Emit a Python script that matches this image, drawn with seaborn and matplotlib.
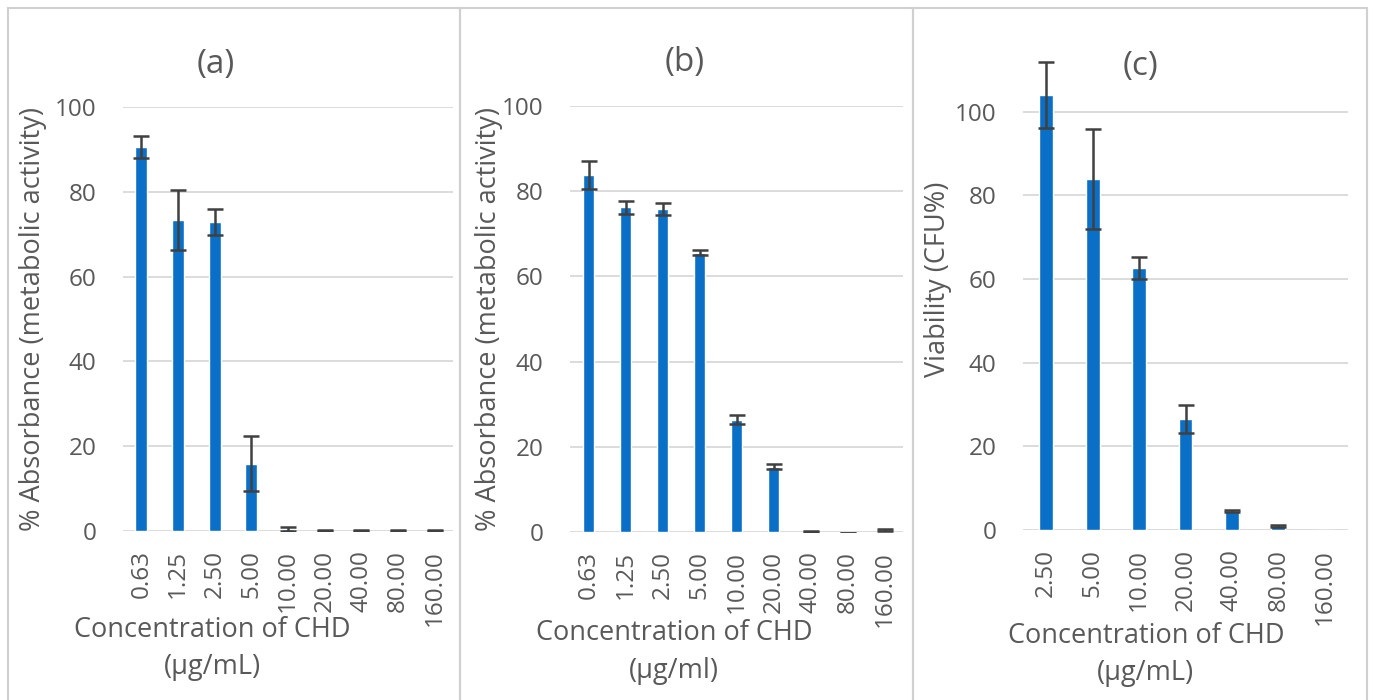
import matplotlib
matplotlib.use("Agg")
import matplotlib.pyplot as plt
import seaborn as sns
import pandas as pd
from matplotlib.patches import Rectangle

# values
conc_ab = ["0.63", "1.25", "2.50", "5.00", "10.00", "20.00", "40.00", "80.00", "160.00"]
conc_c = ["2.50", "5.00", "10.00", "20.00", "40.00", "80.00", "160.00"]

absorb_a = [90.5, 73.4, 72.9, 15.9, 0.5, 0.1, 0.1, 0.1, 0.1]
err_a = [2.6, 7.1, 3.1, 6.4, 0.5, 0.1, 0.1, 0.1, 0.1]

absorb_b = [83.8, 76.2, 75.8, 65.6, 26.4, 15.3, 0.2, -0.3, 0.4]
err_b = [3.2, 1.5, 1.5, 0.6, 1.1, 0.6, 0.1, 0.0, 0.2]

viab_c = [104.0, 83.9, 62.7, 26.6, 4.5, 1.0, 0.0]
err_c = [7.8, 12.0, 2.6, 3.4, 0.3, 0.2, float("nan")]

BLUE = "#0A6FC6"
GREY = "#595959"

sns.set_theme(style="white")
plt.rcParams["font.family"] = ["Open Sans", "DejaVu Sans"]

W, H = 1373, 700
fig = plt.figure(figsize=(W / 100, H / 100), dpi=100)
fig.patch.set_facecolor("white")


def px_axes(x0, x1, ytop, ybot):
    return fig.add_axes([x0 / W, 1 - ybot / H, (x1 - x0) / W, (ybot - ytop) / H])


panels = [
    dict(ax=px_axes(123, 453, 107, 531), cats=conc_ab, vals=absorb_a, errs=err_a, width=0.33,
         ylim=(0, 100), title="(a)", tx=216, ty=65,
         ylabel="% Absorbance (metabolic activity)", ylab_x=-0.23,
         xlabel="Concentration of CHD\n(µg/mL)", xlab=(0.271, -0.2)),
    dict(ax=px_axes(570, 903, 106, 532), cats=conc_ab, vals=absorb_b, errs=err_b, width=0.32,
         ylim=(0, 100), title="(b)", tx=685, ty=62,
         ylabel="% Absorbance (metabolic activity)", ylab_x=-0.2,
         xlabel="Concentration of CHD\n(µg/ml)", xlab=(0.312, -0.205)),
    dict(ax=px_axes(1023, 1348, 28, 530), cats=conc_c, vals=viab_c, errs=err_c, width=0.3,
         ylim=(0, 120), title="(c)", tx=1140, ty=66,
         ylabel="Viability (CFU%)", ylab_x=-0.218,
         xlabel="Concentration of CHD\n(µg/mL)", xlab=(0.378, -0.183)),
]

for p in panels:
    ax = p["ax"]
    df = pd.DataFrame({"conc": p["cats"], "val": p["vals"]})
    sns.barplot(data=df, x="conc", y="val", color=BLUE, saturation=1, width=p["width"],
                errorbar=None, ax=ax, zorder=3)
    ax.errorbar(range(len(p["cats"])), p["vals"], yerr=p["errs"], fmt="none",
                ecolor="#404040", elinewidth=1.8, capsize=5.5, capthick=1.8, zorder=4)
    ax.set_ylim(*p["ylim"])
    ax.set_xlim(-0.5, len(p["cats"]) - 0.5)
    ax.set_yticks([0, 20, 40, 60, 80, 100])
    ax.yaxis.grid(True, color="#D9D9D9", linewidth=1.3, zorder=0)
    ax.set_axisbelow(True)
    for s in ax.spines.values():
        s.set_visible(False)
    ax.tick_params(axis="y", length=0, pad=19, labelsize=17.5, labelcolor=GREY)
    ax.tick_params(axis="x", length=0, pad=14, labelsize=17.5, labelcolor=GREY, rotation=90)
    ax.set_ylabel(p["ylabel"], fontsize=19.5, color=GREY)
    ax.yaxis.set_label_coords(p["ylab_x"], 0.5)
    ax.set_xlabel(p["xlabel"], fontsize=19.5, color=GREY, linespacing=1.45)
    ax.xaxis.set_label_coords(*p["xlab"])
    fig.text(p["tx"] / W, 1 - p["ty"] / H, p["title"], fontsize=24, color=GREY,
             ha="center", va="center")

# light frames around each panel
for x0, x1 in [(8, 460), (460, 913), (913, 1367)]:
    fig.add_artist(Rectangle((x0 / W, -0.05), (x1 - x0) / W, 1.05 - 8 / H,
                             transform=fig.transFigure, fill=False,
                             edgecolor="#D0D0D0", linewidth=1.5))

fig.savefig("out.png", dpi=100, facecolor="white")
